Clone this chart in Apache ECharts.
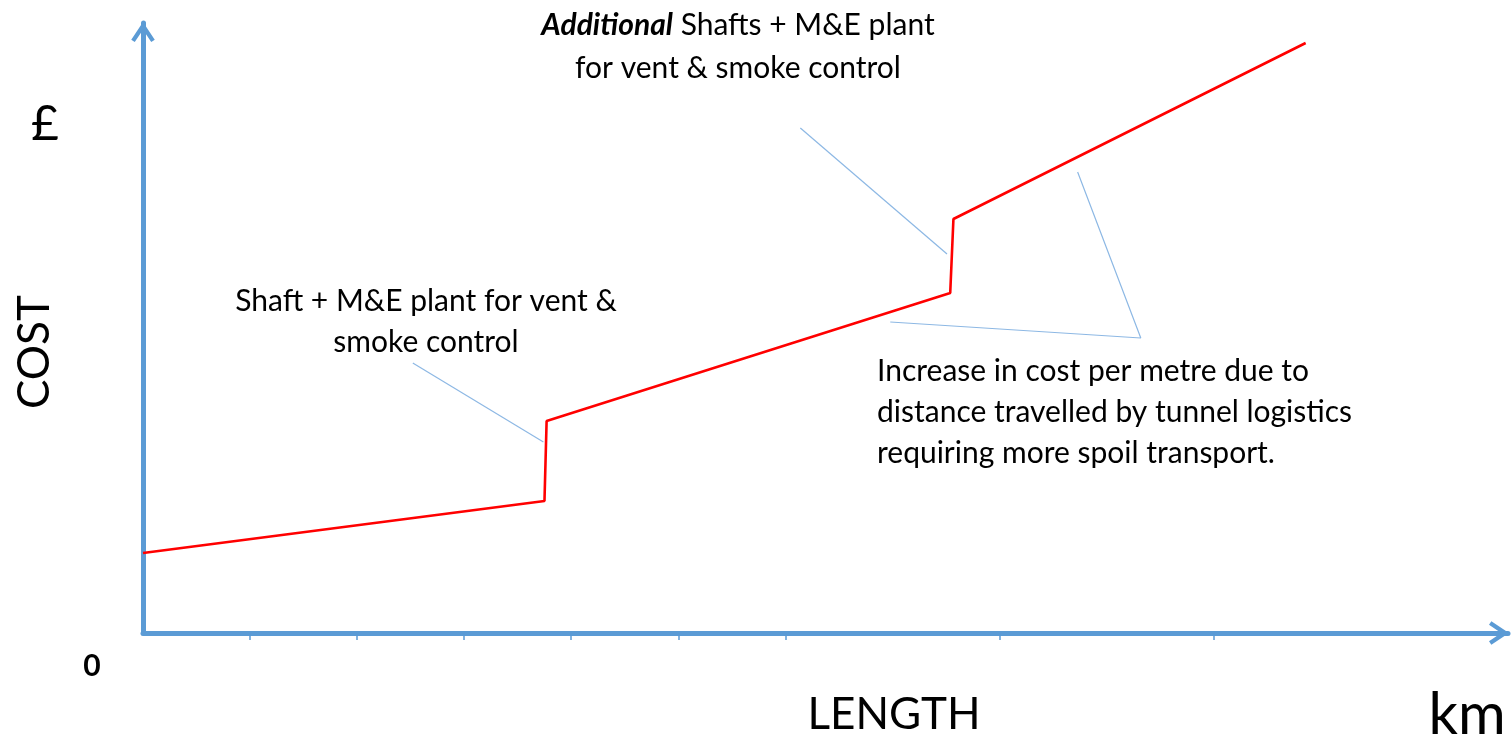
<!DOCTYPE html>
<html>
<head>
<meta charset="utf-8">
<title>Tunnel cost vs length</title>
<script src="https://cdn.jsdelivr.net/npm/echarts@6.0.0/dist/echarts.min.js"></script>
<style>
  html, body { margin: 0; padding: 0; background: #fff; }
  #chart { width: 1512px; height: 741px; }
</style>
</head>
<body>
<div id="chart"></div>
<script>
// length in tick units (one tick = one step of length), cost in arbitrary units
const costX = [0, 3.75, 3.77, 7.54, 7.57, 10.86]
const costY = [8.0, 13.2, 21.2, 34.0, 41.4, 59.0]

// leader lines from the notes to the curve
const leaderShaft = [[2.52, 27.0], [3.74, 19.1]]
const leaderExtra = [[6.14, 50.5], [7.51, 37.9]]
const leaderIncrease = [[6.98, 31.1], [9.32, 29.5], [8.73, 46.1]]

const xTicks = [1, 2, 3, 4, 5, 6, 8, 10]

const axisBlue = '#5b9bd5'
const leaderBlue = '#8db8e4'
const font = 'Lato, "Open Sans", sans-serif'
const noteFont = '30px ' + font

// open chevron pointing up, used as axis arrow
const chevron = 'path://M0,9 L6,0 L12,9 L10.2,10.2 L6,4 L1.8,10.2 Z'

const chart = echarts.init(document.getElementById('chart'))

const leader = (data) => ({
  type: 'line',
  data: data,
  symbol: 'none',
  silent: true,
  lineStyle: { color: leaderBlue, width: 1.2 },
  z: 1
})

const note = (x, y, text, align) => ({
  type: 'text',
  x: x,
  y: y,
  style: { text: text, font: noteFont, fill: '#000', textAlign: align || 'center', textVerticalAlign: 'middle' }
})

chart.setOption({
  animation: false,
  grid: { left: 143, right: 4, top: 23, bottom: 108 },
  xAxis: {
    type: 'value',
    min: 0,
    max: 12.75,
    splitLine: { show: false },
    axisLabel: { show: false },
    axisLine: {
      onZero: false,
      lineStyle: { color: axisBlue, width: 5 },
      symbol: ['none', chevron],
      symbolSize: [26, 20],
      symbolOffset: [0, -9]
    },
    axisTick: {
      show: true,
      customValues: xTicks,
      length: 7,
      lineStyle: { color: axisBlue, width: 1.5 }
    }
  },
  yAxis: {
    type: 'value',
    min: 0,
    max: 61,
    splitLine: { show: false },
    axisLabel: { show: false },
    axisTick: { show: false },
    axisLine: {
      show: true,
      onZero: false,
      lineStyle: { color: axisBlue, width: 5 },
      symbol: ['none', chevron],
      symbolSize: [26, 20],
      symbolOffset: [0, -9]
    }
  },
  series: [
    {
      type: 'line',
      data: costX.map((x, i) => [x, costY[i]]),
      symbol: 'none',
      lineStyle: { color: '#ff0000', width: 2.6 },
      z: 3
    },
    leader(leaderShaft),
    leader(leaderExtra),
    leader(leaderIncrease)
  ],
  graphic: [
    { type: 'text', x: 738, y: 25, style: { text: '{b|Additional} Shafts + M&E plant', font: noteFont, fill: '#000', textAlign: 'center', textVerticalAlign: 'middle', rich: { b: { font: 'italic bold 30px ' + font, fill: '#000' } } } },
    note(738, 68, 'for vent & smoke control'),
    note(426, 301, 'Shaft + M&E plant for vent &'),
    note(426, 342, 'smoke control'),
    note(877, 371, 'Increase in cost per metre due to', 'left'),
    note(877, 412, 'distance travelled by tunnel logistics', 'left'),
    note(877, 453, 'requiring more spoil transport.', 'left'),
    { type: 'text', x: 45, y: 125, style: { text: '£', font: '48px ' + font, fill: '#000', textAlign: 'center', textVerticalAlign: 'middle' } },
    { type: 'text', x: 35, y: 352, rotation: Math.PI / 2, style: { text: 'COST', font: '44px ' + font, fill: '#000', textAlign: 'center', textVerticalAlign: 'middle' } },
    { type: 'text', x: 92, y: 666, style: { text: '0', font: 'bold 30px ' + font, fill: '#000', textAlign: 'center', textVerticalAlign: 'middle' } },
    { type: 'text', x: 894, y: 715, style: { text: 'LENGTH', font: '44px ' + font, fill: '#000', textAlign: 'center', textVerticalAlign: 'middle' } },
    { type: 'text', x: 1467, y: 715, style: { text: 'km', font: '58px ' + font, fill: '#000', textAlign: 'center', textVerticalAlign: 'middle' } }
  ]
})
</script>
</body>
</html>
